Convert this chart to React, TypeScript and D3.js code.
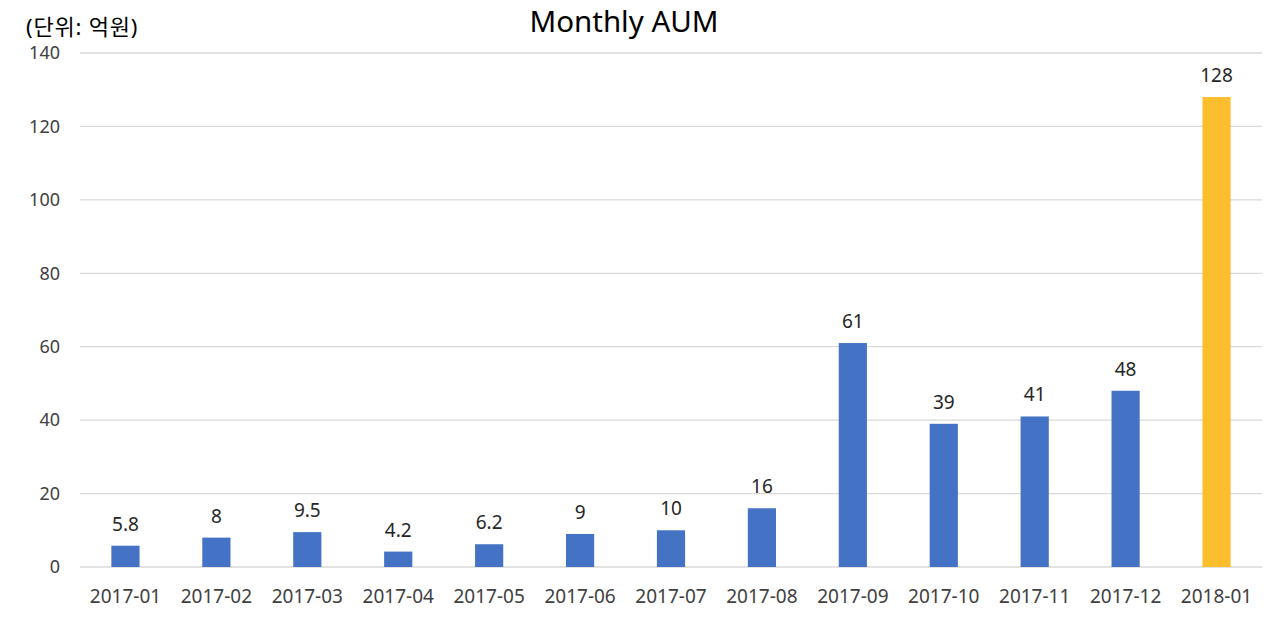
import React from "react";
import * as d3 from "d3";

const categories = ["2017-01","2017-02","2017-03","2017-04","2017-05","2017-06","2017-07","2017-08","2017-09","2017-10","2017-11","2017-12","2018-01"];
const values = [5.8, 8, 9.5, 4.2, 6.2, 9, 10, 16, 61, 39, 41, 48, 128];
const labels = ["5.8","8","9.5","4.2","6.2","9","10","16","61","39","41","48","128"];
const yTicks = [0, 20, 40, 60, 80, 100, 120, 140];
const highlight = "2018-01";

const W = 1280, H = 622;
const left = 80, right = 1262, top = 53, bottom = 567;
const font = "'Noto Sans', 'Noto Sans CJK KR', sans-serif";

export default function App() {
  const x = d3.scaleBand<string>().domain(categories).range([left, right]).paddingInner(0.69).paddingOuter(0.345);
  const y = d3.scaleLinear().domain([0, 140]).range([bottom, top]);
  return (
    <svg width={W} height={H} style={{ position: "absolute", left: 0, top: 0, background: "#fff" }} fontFamily={font}>
      <rect width={W} height={H} fill="#fff" />
      {yTicks.map((t) => (
        <g key={t}>
          <line x1={left} x2={right} y1={y(t)} y2={y(t)} stroke="#D9D9D9" strokeWidth={1.3} />
          <text x={60} y={y(t)} dy="0.35em" textAnchor="end" fontSize={18} fill="#404040">{t}</text>
        </g>
      ))}
      {categories.map((c, i) => (
        <g key={c}>
          <rect x={x(c)} y={y(values[i])} width={x.bandwidth()} height={y(0) - y(values[i])} fill={c === highlight ? "#FDBE2E" : "#4472C4"} />
          <text x={(x(c) as number) + x.bandwidth() / 2} y={y(values[i]) - 15} textAnchor="middle" fontSize={19} fill="#262626">{labels[i]}</text>
          <text x={(x(c) as number) + x.bandwidth() / 2} y={603} textAnchor="middle" fontSize={19} fill="#404040">{c}</text>
        </g>
      ))}
      <text x={624} y={32} textAnchor="middle" fontSize={29.5} fill="#000">Monthly AUM</text>
      <text x={26} y={35} fontSize={22} letterSpacing={0.8} fill="#000">(단위: 억원)</text>
    </svg>
  );
}
